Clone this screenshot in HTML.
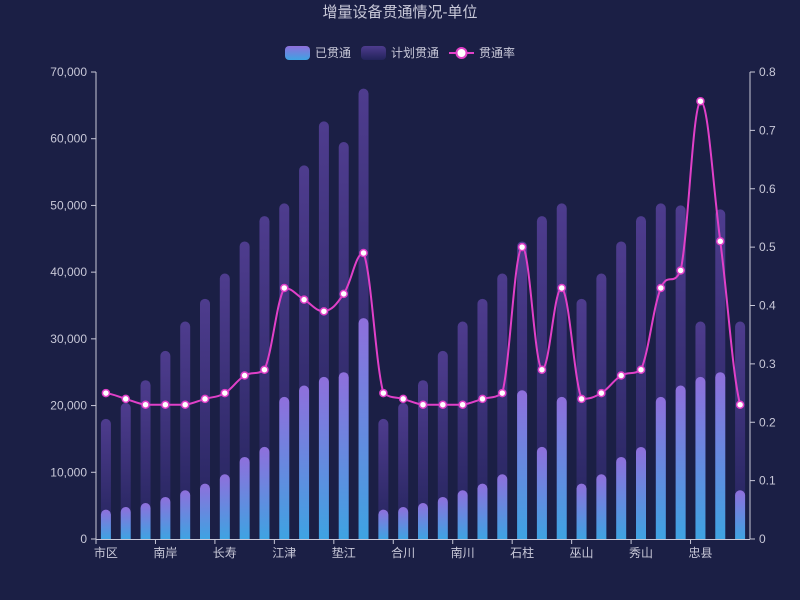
<!DOCTYPE html>
<html><head><meta charset="utf-8">
<style>
html,body{margin:0;padding:0;background:#1b1f45;}
svg{display:block;font-family:"Liberation Sans","Noto Sans CJK SC",sans-serif;}
</style></head>
<body>
<svg id="c" width="800" height="600" xmlns="http://www.w3.org/2000/svg">
<defs>
<linearGradient id="gd" x1="0" y1="0" x2="0" y2="1">
<stop offset="0" stop-color="#8f6fdc"/><stop offset="1" stop-color="#3ea3e2"/>
</linearGradient>
<linearGradient id="gp" x1="0" y1="0" x2="0" y2="1">
<stop offset="0" stop-color="#4e3c8e"/><stop offset="1" stop-color="#22235a"/>
</linearGradient>
<linearGradient id="lg1" x1="0" y1="0" x2="0" y2="1">
<stop offset="0" stop-color="#8f6fdc"/><stop offset="1" stop-color="#3ea3e2"/>
</linearGradient>
</defs>
<rect width="800" height="600" fill="#1b1f45"/>
<text x="400" y="17" text-anchor="middle" fill="#c8c8d8" font-size="15">增量设备贯通情况-单位</text>
<rect x="285" y="46" width="25" height="14" rx="4" fill="url(#lg1)"/>
<text x="315" y="57" fill="#c8c8d8" font-size="12">已贯通</text>
<rect x="361" y="46" width="25" height="14" rx="4" fill="url(#gp)"/>
<text x="391" y="57" fill="#c8c8d8" font-size="12">计划贯通</text>
<line x1="449" y1="53" x2="474" y2="53" stroke="#e040c8" stroke-width="2"/>
<circle cx="461.5" cy="53" r="5" fill="#fff" stroke="#e040c8" stroke-width="2"/>
<text x="479" y="57" fill="#c8c8d8" font-size="12">贯通率</text>
<g id="g"></g>
</svg>
<script>
var g=document.getElementById('g'),ns='http://www.w3.org/2000/svg';
function el(t,a,txt){var e=document.createElementNS(ns,t);for(var k in a)e.setAttribute(k,a[k]);if(txt!=null)e.textContent=txt;g.appendChild(e);return e;}
var X0=96,X1=750,Y0=539,Y1=72,N=33,cw=(X1-X0)/N;
var plan=[18000,20400,23800,28200,32600,36000,39800,44600,48400,50300,56000,62600,59500,67500,18000,20400,23800,28200,32600,36000,39800,44600,48400,50300,36000,39800,44600,48400,50300,50000,32600,49400,32600];
var done=[4400,4800,5400,6300,7300,8300,9700,12300,13800,21300,23000,24300,25000,33100,4400,4800,5400,6300,7300,8300,9700,22300,13800,21300,8300,9700,12300,13800,21300,23000,24300,25000,7300];
var rate=[.25,.24,.23,.23,.23,.24,.25,.28,.29,.43,.41,.39,.42,.49,.25,.24,.23,.23,.23,.24,.25,.50,.29,.43,.24,.25,.28,.29,.43,.46,.75,.51,.23];
var labels={0:'市区',3:'南岸',6:'长寿',9:'江津',12:'垫江',15:'合川',18:'南川',21:'石柱',24:'巫山',27:'秀山',30:'忠县'};
function yl(v){return Y0-(Y0-Y1)*v/70000;}
function yr(v){return Y0-(Y0-Y1)*v/0.8;}
el('line',{x1:X0,y1:Y1,x2:X0,y2:Y0,stroke:'#c8c8d8','stroke-width':1});
el('line',{x1:X1,y1:Y1,x2:X1,y2:Y0,stroke:'#c8c8d8','stroke-width':1});
el('line',{x1:X0,y1:Y0+.5,x2:X1,y2:Y0+.5,stroke:'#c8c8d8','stroke-width':1});
for(var i=0;i<=7;i++){var v=i*10000,y=yl(v);
el('line',{x1:X0-5,y1:y,x2:X0,y2:y,stroke:'#c8c8d8'});
el('text',{x:X0-9,y:y+4,'text-anchor':'end',fill:'#c8c8d8','font-size':12},v.toLocaleString('en-US'));}
for(var i=0;i<=8;i++){var v=i/10,y=yr(v);
el('line',{x1:X1,y1:y,x2:X1+5,y2:y,stroke:'#c8c8d8'});
el('text',{x:X1+9,y:y+4,fill:'#c8c8d8','font-size':12},i==0?'0':v.toFixed(1));}
function bar(cx,v,fill){var y=yl(v),w=10,h=Y0-y,r=Math.min(5,h);
el('path',{d:'M'+(cx-w/2)+','+Y0+'V'+(y+r)+'A'+r+','+r+' 0 0 1 '+(cx+w/2)+','+(y+r)+'V'+Y0+'Z',fill:fill});}
var pts=[];
for(var i=0;i<N;i++){var cx=X0+cw*(i+.5);
bar(cx,plan[i],'url(#gp)');bar(cx,done[i],'url(#gd)');
pts.push([cx,yr(rate[i])]);
if(labels[i]){el('line',{x1:X0+cw*i,y1:Y0,x2:X0+cw*i,y2:Y0+5,stroke:'#c8c8d8'});
el('text',{x:cx,y:Y0+18,'text-anchor':'middle',fill:'#c8c8d8','font-size':12},labels[i]);}}
function cl(v,a,b){var lo=Math.min(a,b),hi=Math.max(a,b);return Math.max(lo,Math.min(hi,v));}
var d='M'+pts[0][0]+','+pts[0][1],s=0.4;
for(var i=0;i<N-1;i++){var p0=pts[Math.max(0,i-1)],p1=pts[i],p2=pts[i+1],p3=pts[Math.min(N-1,i+2)];
var c1=[p1[0]+cw*s,cl(p1[1]+(p2[1]-p0[1])*s/2,p1[1],p2[1])];
var c2=[p2[0]-cw*s,cl(p2[1]-(p3[1]-p1[1])*s/2,p1[1],p2[1])];
d+='C'+c1+' '+c2+' '+p2;}
el('path',{d:d,fill:'none',stroke:'#e040c8','stroke-width':2});
pts.forEach(function(p){el('circle',{cx:p[0],cy:p[1],r:3.5,fill:'#fff',stroke:'#e040c8','stroke-width':1.5});});
</script>
</body></html>
